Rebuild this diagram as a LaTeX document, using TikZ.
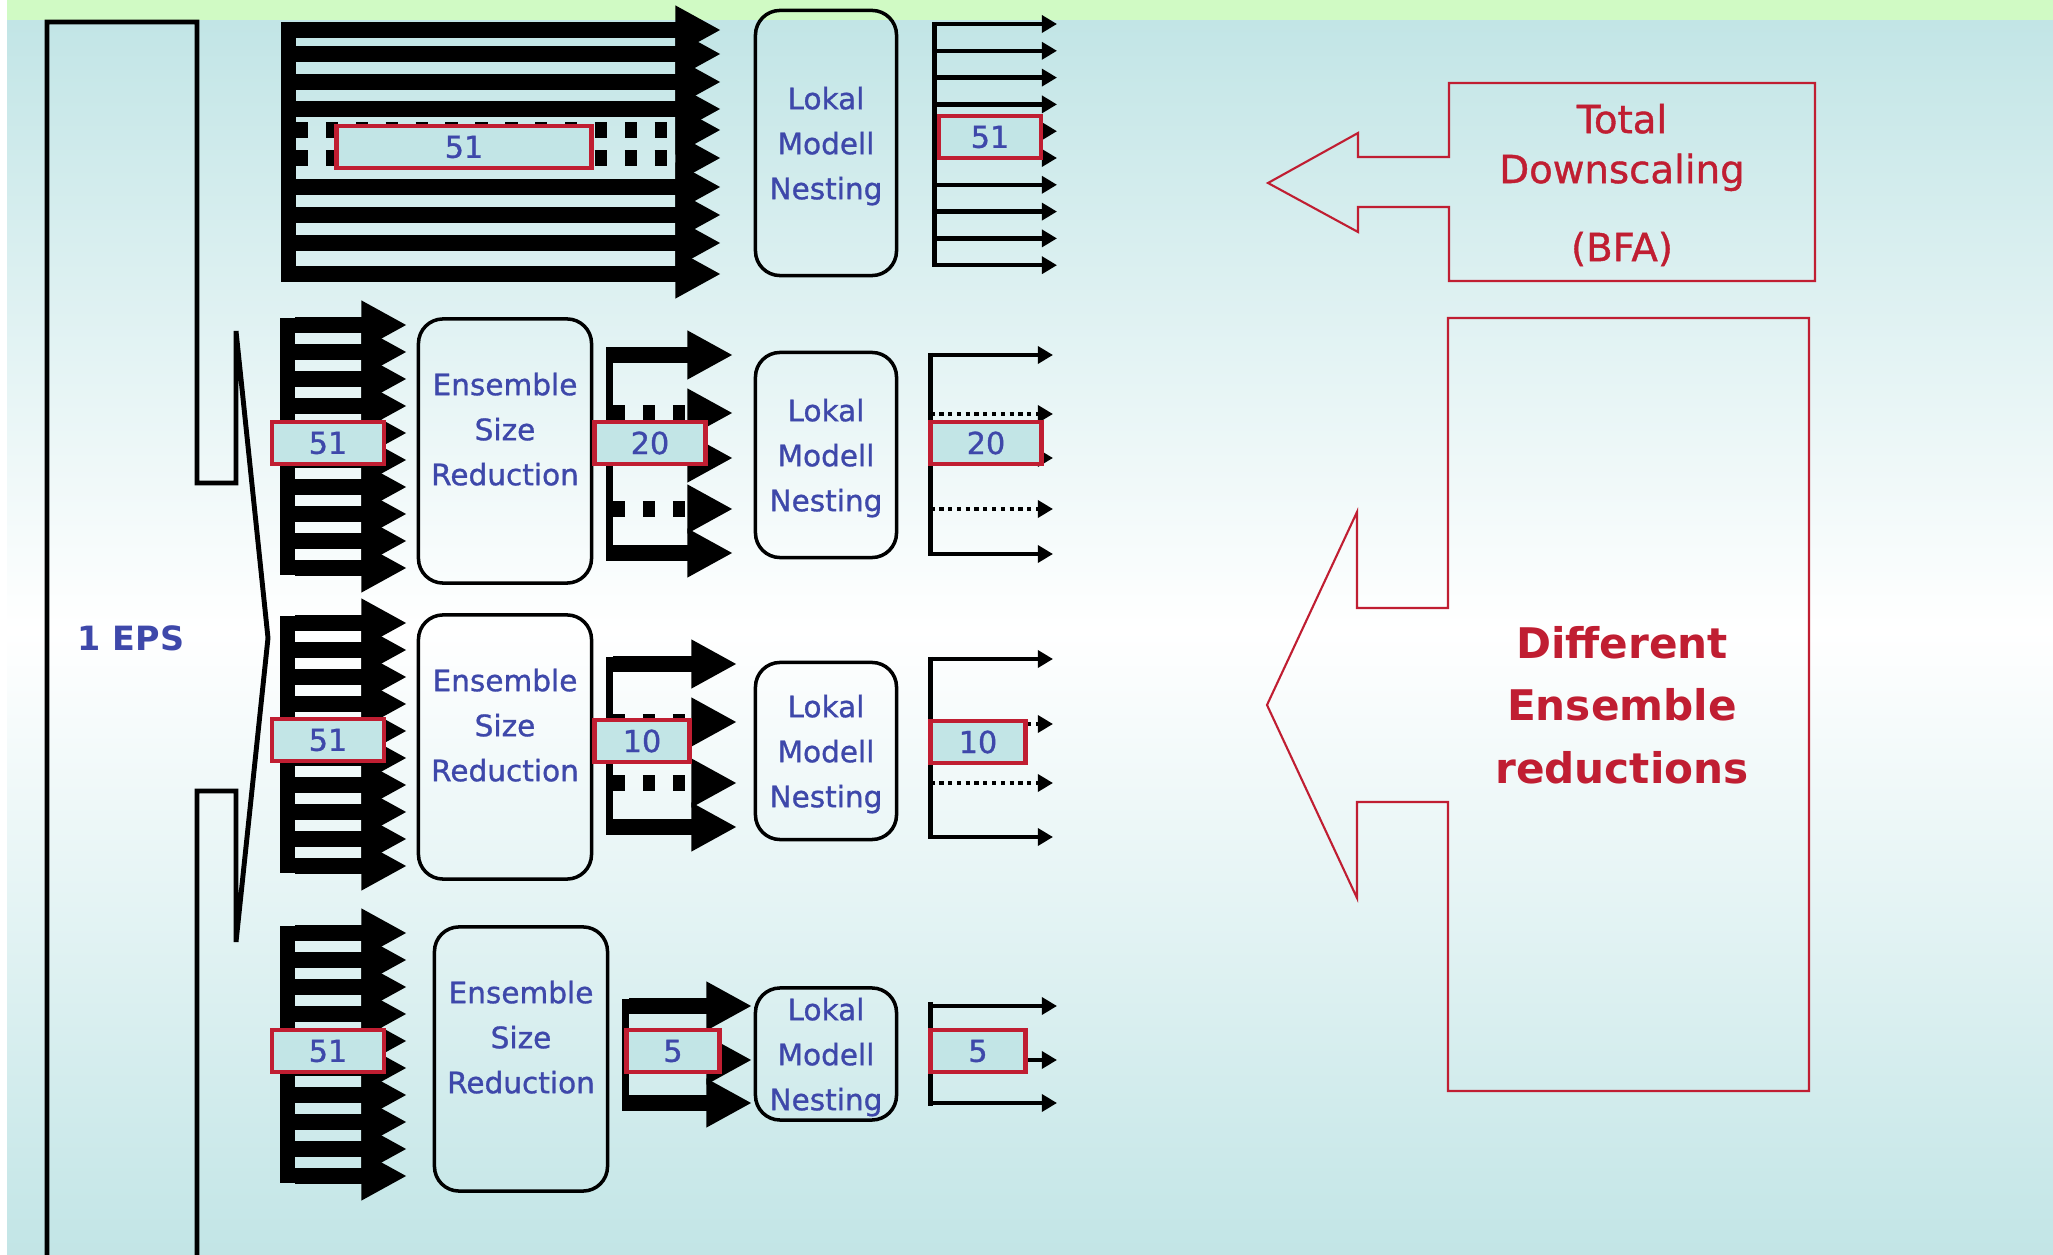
\documentclass[tikz,border=0pt]{standalone}
\usepackage{fontspec}
\setmainfont{DejaVu Sans}
\newfontfamily\heavy[FakeBold=1]{DejaVu Sans}
\usepackage{xcolor}
\usepackage{tikz}
\usetikzlibrary{arrows.meta}
\tikzset{
  rbox/.style    = {draw=black, line width=1pt, rounded corners=7pt, text=inkblue, align=center,
                    font=\heavy\fontsize{8.4}{12.8}\selectfont, inner sep=0pt, minimum width=1.41cm,
                    text depth=0pt},
  esr/.style     = {rbox, minimum width=1.73cm, minimum height=2.64cm, text depth=0.44cm},
  num/.style     = {draw=warnred, line width=1.3pt, fill=paleteal, text=inkblue, inner sep=0pt,
                    minimum height=0.42cm, font=\heavy\fontsize{8.6}{10}\selectfont},
  fat/.style     = {line width=4.3pt, -{Triangle[length=13pt, width=13pt]}},
  fatdash/.style = {fat, dash pattern=on 3.5pt off 5pt},
  slim/.style    = {line width=1.2pt, -{Triangle[length=4.3pt, width=4.8pt]}},
  slimdot/.style = {slim, dash pattern=on 1.2pt off 1.3pt},
  callout/.style = {draw=warnred, line width=0.6pt, line join=miter},
  redtxt/.style  = {text=warnred, align=center},
}
\definecolor{paleteal}{RGB}{194,229,230}
\definecolor{palegreen}{RGB}{208,250,196}
\definecolor{inkblue}{RGB}{62,72,170}
\definecolor{warnred}{RGB}{192,30,50}

\begin{document}
\begin{tikzpicture}[x=0.01cm, y=-0.01cm]
  \useasboundingbox (0,0) rectangle (2053,1255);
  \fill[white] (0,0) rectangle (2053,1255);
  \shade[top color=paleteal, bottom color=white] (7,20) rectangle (2053,630);
  \shade[top color=white, bottom color=paleteal] (7,630) rectangle (2053,1255);
  \fill[palegreen] (7,0) rectangle (2053,20);

  % one EPS feeding the four chains
  \draw[line width=1.4pt, line join=miter] (47,1262) -- (47,22) -- (197,22) -- (197,483) -- (236,483)
       -- (236,331) -- (268,638) -- (236,942) -- (236,791) -- (197,791) -- (197,1262);
  \node[text=inkblue, font=\fontsize{9.5}{11}\selectfont\bfseries] (eps) at (131,638) {1 EPS};

  % total downscaling
  \fill (281,22) rectangle (296,282);
  \foreach \y in {30,54,82,109,187,215,243,274} \draw[fat] (296,\y) -- (721,\y);
  \foreach \y in {130,158} \draw[fatdash] (296,\y) -- (721,\y);
  \node[num, minimum width=2.55cm] (inA) at (464,147) {51};
  \node[rbox, minimum height=2.65cm] (lokA) at (826,143) {Lokal\\Modell\\Nesting};
  \draw[line width=1.3pt] (934.5,22) -- (934.5,267);
  \foreach \k in {0,...,9} \draw[slim] (934.5,24+26.8*\k) -- (1057,24+26.8*\k);
  \node[num, minimum width=1.02cm] (outA) at (990,137) {51};

  % ensemble size reductions
  \foreach \t in {325,623,933} {
    \fill (280,\t-7) rectangle (295,\t+250);
    \foreach \k in {0,...,9} \draw[fat] (295,\t+27*\k) -- (407,\t+27*\k);
  }
  \node[num, minimum width=1.12cm] (inB) at (328,443) {51};
  \node[num, minimum width=1.12cm] (inC) at (328,740) {51};
  \node[num, minimum width=1.12cm] (inD) at (328,1051) {51};
  \node[esr] (esrB) at (505,451) {Ensemble\\Size\\Reduction};
  \node[esr] (esrC) at (505,747) {Ensemble\\Size\\Reduction};
  \node[esr] (esrD) at (521,1059) {Ensemble\\Size\\Reduction};

  \fill (606,347) rectangle (613,561);
  \foreach \y in {355,458,553} \draw[fat] (613,\y) -- (733,\y);
  \foreach \y in {413,509} \draw[fatdash] (613,\y) -- (733,\y);
  \fill (606,657) rectangle (613,835);
  \foreach \y in {664,827} \draw[fat] (613,\y) -- (737,\y);
  \foreach \y in {722,783} \draw[fatdash] (613,\y) -- (737,\y);
  \fill (622,999) rectangle (629,1111);
  \foreach \y in {1006,1060,1103} \draw[fat] (629,\y) -- (752,\y);
  \node[num, minimum width=1.11cm] (midB) at (650,443) {20};
  \node[num, minimum width=0.95cm] (midC) at (642,741) {10};
  \node[num, minimum width=0.93cm] (midD) at (673,1051) {5};

  \node[rbox, minimum height=2.05cm] (lokB) at (826,455) {Lokal\\Modell\\Nesting};
  \node[rbox, minimum height=1.77cm] (lokC) at (826,751) {Lokal\\Modell\\Nesting};
  \node[rbox, minimum height=1.32cm] (lokD) at (826,1054) {Lokal\\Modell\\Nesting};

  \draw[line width=1.3pt] (930.5,353) -- (930.5,556);
  \foreach \y in {355,458,554} \draw[slim] (930.5,\y) -- (1053,\y);
  \foreach \y in {414,509} \draw[slimdot] (930.5,\y) -- (1053,\y);
  \draw[line width=1.3pt] (930.5,657) -- (930.5,839);
  \foreach \y in {659,837} \draw[slim] (930.5,\y) -- (1053,\y);
  \foreach \y in {724,783} \draw[slimdot] (930.5,\y) -- (1053,\y);
  \draw[line width=1.3pt] (930.5,1002) -- (930.5,1106);
  \foreach \y in {1006,1060,1103} \draw[slim] (930.5,\y) -- (1057,\y);
  \node[num, minimum width=1.11cm] (outB) at (986,443) {20};
  \node[num, minimum width=0.95cm] (outC) at (978,742) {10};
  \node[num, minimum width=0.95cm] (outD) at (978,1051) {5};

  % callouts
  \draw[callout] (1449,83) -- (1815,83) -- (1815,281) -- (1449,281) -- (1449,207) -- (1358,207)
       -- (1358,232) -- (1268,183) -- (1358,133) -- (1358,157) -- (1449,157) -- cycle;
  \node[redtxt, font=\heavy\fontsize{11}{14.2}\selectfont] (bfa) at (1622,185) {Total\\Downscaling\\[8pt](BFA)};
  \draw[callout] (1448,318) -- (1809,318) -- (1809,1091) -- (1448,1091) -- (1448,802) -- (1357,802)
       -- (1357,898) -- (1267,705) -- (1357,512) -- (1357,608) -- (1448,608) -- cycle;
  \node[redtxt, font=\fontsize{12}{17.8}\selectfont\bfseries] (ensred) at (1622,705) {Different\\Ensemble\\reductions};
\end{tikzpicture}
\end{document}
